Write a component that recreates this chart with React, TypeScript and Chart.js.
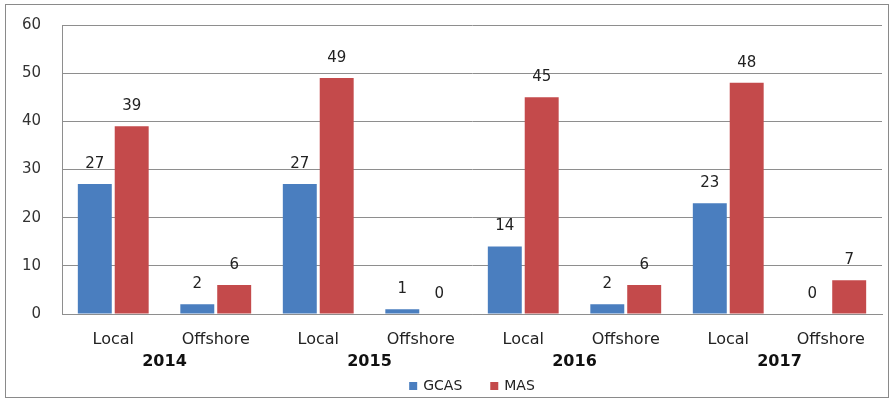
import React, { useEffect, useRef } from "react";
import { Chart, registerables } from "chart.js";

Chart.register(...registerables);

const categories = ["Local", "Offshore", "Local", "Offshore", "Local", "Offshore", "Local", "Offshore"];
const years = ["2014", "2015", "2016", "2017"];
const gcasValues = [27, 2, 27, 1, 14, 2, 23, 0];
const masValues = [39, 6, 49, 0, 45, 6, 48, 7];
const seriesNames = ["GCAS", "MAS"];
const yMin = 0;
const yMax = 60;
const yStep = 10;

const FONT = "'DejaVu Sans', 'Liberation Sans', sans-serif";
const BLUE = "#4A7EBF";
const RED = "#C44A4B";
const GRID = "#8e8e8e";

const framePlugin = {
  id: "frame",
  beforeDraw(chart: any) {
    const ctx = chart.ctx;
    ctx.save();
    ctx.fillStyle = "#ffffff";
    ctx.fillRect(0, 0, chart.width, chart.height);
    ctx.strokeStyle = "#8a8a8a";
    ctx.lineWidth = 1;
    ctx.strokeRect(5.5, 4.5, chart.width - 11, chart.height - 9);
    ctx.restore();
  },
};

const dataLabelPlugin = {
  id: "dataLabels",
  afterDatasetsDraw(chart: any) {
    const ctx = chart.ctx;
    ctx.save();
    ctx.font = `15px ${FONT}`;
    ctx.fillStyle = "#222222";
    ctx.textAlign = "center";
    ctx.textBaseline = "middle";
    chart.data.datasets.forEach((ds: any, di: number) => {
      const meta = chart.getDatasetMeta(di);
      meta.data.forEach((el: any, i: number) => {
        ctx.fillText(String(ds.data[i]), el.x, el.y - 20);
      });
    });
    ctx.restore();
  },
};

const yearLegendPlugin = {
  id: "yearsAndLegend",
  afterDraw(chart: any) {
    const ctx = chart.ctx;
    const xs = chart.scales.x;
    const area = chart.chartArea;
    ctx.save();
    // year group labels
    ctx.font = `bold 16px ${FONT}`;
    ctx.fillStyle = "#111111";
    ctx.textAlign = "center";
    ctx.textBaseline = "middle";
    years.forEach((yr, i) => {
      const x = (xs.getPixelForValue(2 * i) + xs.getPixelForValue(2 * i + 1)) / 2;
      ctx.fillText(yr, x, area.bottom + 48);
    });
    // legend
    ctx.font = `14px ${FONT}`;
    const colors = [BLUE, RED];
    const box = 8;
    const gapBoxText = 6;
    const gapItems = 28;
    const widths = seriesNames.map((n) => ctx.measureText(n).width);
    const total = widths.reduce((a, w) => a + box + gapBoxText + w, 0) + gapItems * (seriesNames.length - 1);
    let x = (area.left + area.right) / 2 - total / 2;
    const y = area.bottom + 72;
    ctx.textAlign = "left";
    seriesNames.forEach((n, i) => {
      ctx.fillStyle = colors[i];
      ctx.fillRect(x, y - box / 2, box, box);
      x += box + gapBoxText;
      ctx.fillStyle = "#222222";
      ctx.fillText(n, x, y);
      x += widths[i] + gapItems;
    });
    ctx.restore();
  },
};

export default function App() {
  const ref = useRef<HTMLCanvasElement | null>(null);

  useEffect(() => {
    if (!ref.current) return;
    const chart = new Chart(ref.current, {
      type: "bar",
      data: {
        labels: categories,
        datasets: [
          {
            label: seriesNames[0],
            data: gcasValues,
            backgroundColor: BLUE,
            categoryPercentage: 0.72,
            barPercentage: 0.92,
          },
          {
            label: seriesNames[1],
            data: masValues,
            backgroundColor: RED,
            categoryPercentage: 0.72,
            barPercentage: 0.92,
          },
        ],
      },
      options: {
        responsive: false,
        animation: false,
        layout: { padding: { top: 25, right: 12, bottom: 0, left: 0 } },
        plugins: {
          legend: { display: false },
          tooltip: { enabled: false },
          title: { display: false },
        },
        scales: {
          x: {
            grid: { display: false, drawTicks: false },
            border: { display: true, color: GRID, width: 1 },
            ticks: {
              font: { family: FONT, size: 16 },
              color: "#222222",
              padding: 16,
              maxRotation: 0,
              autoSkip: false,
            },
            afterFit: (scale: any) => {
              scale.height = 88;
              scale.paddingLeft = 0;
              scale.paddingRight = 0;
            },
          },
          y: {
            min: yMin,
            max: yMax,
            ticks: {
              stepSize: yStep,
              font: { family: FONT, size: 15 },
              color: "#333333",
              padding: 21,
            },
            grid: { color: GRID, drawTicks: false, lineWidth: 1 },
            border: { display: true, color: GRID, width: 1 },
            afterFit: (scale: any) => {
              scale.width = 62;
              scale.paddingTop = 0;
              scale.paddingBottom = 0;
            },
          },
        },
      },
      plugins: [framePlugin, dataLabelPlugin, yearLegendPlugin],
    } as any);
    return () => chart.destroy();
  }, []);

  return (
    <div style={{ position: "fixed", left: 0, top: 0, width: 894, height: 402, background: "#fff" }}>
      <canvas ref={ref} width={894} height={402} style={{ display: "block" }} />
    </div>
  );
}
